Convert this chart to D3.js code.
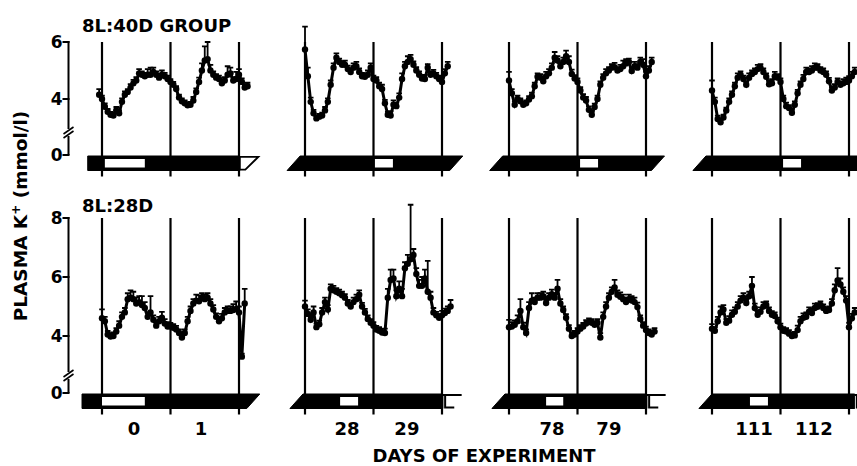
<!DOCTYPE html>
<html>
<head>
<meta charset="utf-8">
<script src="https://cdn.jsdelivr.net/npm/d3@7"></script>
<style>
  body { margin: 0; background: #fff; }
  svg text { font-family: "DejaVu Sans", sans-serif; font-weight: bold; fill: #000; }
</style>
</head>
<body>
<div id="chart"></div>
<script>
// Plasma K+ (mmol/l), one reading per hour, hour 0 = first midnight line of each panel
const topStart = [-1, 0, 0, 0];
const top1 = [4.15,4.0,3.73,3.55,3.45,3.42,3.6,3.5,3.9,4.15,4.25,4.4,4.55,4.65,4.9,4.85,4.8,4.85,4.85,4.95,4.85,4.75,4.85,4.8,4.7,4.6,4.5,4.35,4.05,3.92,3.85,3.78,3.8,3.95,4.25,4.6,5.0,5.35,5.4,5.0,4.85,4.75,4.7,4.55,4.65,4.85,4.9,4.65,4.7,4.85,4.6,4.4,4.45];
const top1Err = [0.2,0.12,0.12,0.1,0.1,0.1,0.12,0.1,0.12,0.12,0.1,0.12,0.12,0.12,0.15,0.12,0.12,0.2,0.25,0.15,0.12,0.12,0.15,0.12,0.12,0.1,0.1,0.1,0.1,0.1,0.1,0.1,0.1,0.12,0.12,0.15,0.25,0.5,0.6,0.2,0.12,0.12,0.12,0.12,0.12,0.3,0.2,0.12,0.25,0.2,0.12,0.12,0.12];
const top2 = [5.74,4.8,3.9,3.5,3.32,3.38,3.42,3.6,3.9,4.5,5.1,5.45,5.3,5.2,5.2,5.05,4.95,5.1,5.15,4.95,4.8,4.78,4.85,5.1,4.7,4.65,4.45,4.35,3.85,3.45,3.42,3.8,3.75,4.05,4.7,5.15,5.3,5.4,5.2,5.0,4.85,4.72,4.7,5.1,4.85,4.9,4.8,4.7,4.6,4.9,5.15];
const top2Err = [0.8,0.3,0.15,0.12,0.1,0.1,0.1,0.12,0.12,0.15,0.15,0.15,0.12,0.12,0.15,0.12,0.12,0.15,0.15,0.12,0.12,0.12,0.15,0.15,0.12,0.12,0.12,0.15,0.12,0.1,0.15,0.15,0.12,0.15,0.2,0.15,0.2,0.15,0.12,0.12,0.12,0.12,0.15,0.12,0.12,0.12,0.12,0.12,0.15,0.15,0.15];
const top3 = [4.65,4.2,3.8,4.0,3.92,3.8,3.85,3.98,4.1,4.45,4.78,4.75,4.62,4.8,4.9,5.1,5.45,5.35,5.15,5.3,5.5,5.3,4.88,4.72,4.6,4.3,4.05,3.95,3.62,3.45,3.72,4.0,4.5,4.75,4.9,5.0,5.1,5.12,5.0,5.05,5.15,5.25,5.3,4.98,5.15,5.1,5.3,5.2,4.8,5.0,5.3];
const top3Err = [0.3,0.15,0.12,0.12,0.1,0.1,0.1,0.12,0.12,0.12,0.12,0.12,0.12,0.15,0.15,0.15,0.2,0.15,0.12,0.15,0.2,0.2,0.15,0.12,0.12,0.12,0.12,0.12,0.12,0.1,0.12,0.12,0.12,0.12,0.15,0.12,0.12,0.15,0.12,0.15,0.2,0.15,0.12,0.12,0.15,0.12,0.15,0.2,0.15,0.15,0.15];
const top4 = [4.3,3.9,3.3,3.18,3.35,3.6,3.9,4.15,4.45,4.75,4.85,4.7,4.5,4.75,4.88,4.95,5.05,5.1,4.95,4.78,4.52,4.55,4.8,4.75,4.6,4.0,3.75,3.68,3.52,3.8,4.2,4.5,4.7,4.95,4.95,5.0,5.1,5.1,5.0,4.95,4.85,4.62,4.3,4.4,4.6,4.5,4.55,4.6,4.65,4.8,4.95];
const top4Err = [0.35,0.15,0.12,0.12,0.1,0.1,0.12,0.12,0.12,0.15,0.12,0.12,0.12,0.15,0.12,0.12,0.15,0.12,0.12,0.12,0.12,0.15,0.15,0.12,0.12,0.12,0.12,0.1,0.1,0.12,0.12,0.12,0.15,0.15,0.12,0.15,0.15,0.12,0.12,0.12,0.12,0.12,0.12,0.12,0.12,0.12,0.15,0.15,0.15,0.15,0.15];

const bottomStart = [0, 0, 0, 0];
const bot1 = [4.6,4.5,4.05,3.98,4.0,4.15,4.35,4.65,4.8,5.25,5.3,5.25,5.1,5.15,5.05,4.95,4.65,4.8,4.55,4.35,4.5,4.62,4.42,4.32,4.32,4.28,4.22,4.1,3.95,4.1,4.5,4.85,5.1,5.2,5.18,5.3,5.25,5.3,5.1,4.9,4.65,4.5,4.6,4.8,4.85,4.85,4.88,4.92,4.8,3.3,5.1];
const bot1Err = [0.3,0.15,0.12,0.12,0.12,0.12,0.15,0.15,0.15,0.2,0.25,0.25,0.2,0.2,0.3,0.2,0.15,0.55,0.15,0.15,0.15,0.2,0.15,0.15,0.12,0.12,0.12,0.12,0.12,0.12,0.15,0.15,0.15,0.2,0.2,0.15,0.15,0.15,0.15,0.15,0.12,0.12,0.15,0.15,0.15,0.15,0.2,0.25,0.2,0.1,0.5];
const bot2 = [5.0,4.75,4.55,4.8,4.3,4.4,4.8,5.15,4.9,5.6,5.55,5.5,5.45,5.38,5.3,5.1,5.0,5.15,5.25,5.4,5.0,4.8,4.58,4.45,4.35,4.22,4.18,4.12,4.1,5.3,5.9,5.95,5.35,5.6,5.35,6.3,6.45,6.6,6.75,6.1,5.7,5.7,5.95,5.5,5.3,4.8,4.7,4.62,4.7,4.78,4.85,5.0];
const bot2Err = [0.2,0.15,0.15,0.2,0.12,0.12,0.15,0.15,0.15,0.15,0.15,0.12,0.12,0.12,0.12,0.12,0.12,0.15,0.15,0.15,0.12,0.12,0.12,0.12,0.12,0.12,0.12,0.12,0.15,0.3,0.35,0.3,0.2,0.25,0.25,0.2,0.3,1.85,0.2,0.2,0.2,0.3,0.3,1.05,0.2,0.15,0.12,0.12,0.15,0.15,0.15,0.22];
const bot3 = [4.3,4.32,4.38,4.5,4.85,4.3,4.1,4.95,5.2,5.15,5.3,5.3,5.35,5.12,5.3,5.42,5.3,5.6,5.1,4.88,4.62,4.25,4.0,4.05,4.15,4.25,4.32,4.42,4.48,4.45,4.38,4.45,3.95,4.65,5.0,5.3,5.5,5.65,5.4,5.33,5.25,5.15,5.25,5.2,5.15,4.98,4.58,4.35,4.2,4.1,4.05,4.15];
const bot3Err = [0.25,0.15,0.15,0.2,0.4,0.15,0.12,0.2,0.25,0.15,0.15,0.15,0.15,0.15,0.15,0.15,0.15,0.3,0.15,0.12,0.12,0.12,0.12,0.12,0.12,0.12,0.12,0.12,0.12,0.12,0.12,0.12,0.15,0.15,0.15,0.15,0.15,0.25,0.15,0.15,0.15,0.15,0.15,0.15,0.15,0.15,0.12,0.12,0.12,0.12,0.12,0.12];
const bot4 = [4.25,4.18,4.5,4.8,4.9,4.45,4.52,4.72,4.82,5.0,5.2,5.3,5.12,5.35,5.7,4.95,4.72,4.82,5.0,5.05,4.85,4.72,4.68,4.5,4.3,4.18,4.15,4.08,4.0,4.02,4.2,4.5,4.62,4.65,4.82,4.78,4.95,4.99,5.05,4.95,4.85,4.88,5.1,5.55,5.88,5.75,5.5,5.2,4.3,4.6,4.8];
const bot4Err = [0.15,0.12,0.15,0.2,0.15,0.12,0.15,0.15,0.15,0.15,0.15,0.15,0.15,0.15,0.3,0.15,0.15,0.15,0.15,0.12,0.12,0.12,0.12,0.12,0.12,0.12,0.12,0.12,0.12,0.12,0.15,0.15,0.15,0.15,0.15,0.15,0.15,0.12,0.12,0.12,0.12,0.12,0.15,0.2,0.42,0.2,0.15,0.15,0.15,0.15,0.15];

// light / dark bar (hours), midnights, day labels
const midnights = [0, 24, 48];
const topLight = [[1, 15], [24.5, 30.8], [24.9, 31.2], [24.9, 31.2]];
const bottomLight = [[0, 15], [12.3, 18.6], [13, 19], [13.3, 19.6]];
const topBar = [[-5, 48.3], [-4, 53], [-4.5, 52.2], [-4.4, 60]];
const bottomBar = [[-7, 53], [-3, 48.3], [-3.7, 48.3], [-2.3, 50]];
const dayLabels = [["0", "1"], ["28", "29"], ["78", "79"], ["111", "112"]];
const dayLabelHours = [[11.2, 34.7], [14.7, 35.7], [15.1, 35], [14.7, 35.7]];
const topTicks = [4, 6];
const bottomTicks = [4, 6, 8];

const W = 857, H = 466;
const colLeft = [102, 305, 509, 712];
const span48 = 137;
const skew = 13;

const svg = d3.select('#chart').append('svg')
  .attr('width', W).attr('height', H);

const rows = [
  {
    title: '8L:40D GROUP',
    y: d3.scaleLinear().domain([4, 6]).range([99, 42]),
    ticks: topTicks, zeroY: 155, breakY: 132, lineTop: 42,
    start: topStart, vals: [top1, top2, top3, top4], errs: [top1Err, top2Err, top3Err, top4Err],
    light: topLight, bar: topBar, isTop: true
  },
  {
    title: '8L:28D',
    y: d3.scaleLinear().domain([4, 8]).range([336, 218]),
    ticks: bottomTicks, zeroY: 393, breakY: 375, lineTop: 218,
    start: bottomStart, vals: [bot1, bot2, bot3, bot4], errs: [bot1Err, bot2Err, bot3Err, bot4Err],
    light: bottomLight, bar: bottomBar, isTop: false
  }
];

const axisX = 68.5;

rows.forEach(row => {
  const g = svg.append('g');
  const barTop = row.zeroY + 1, barBot = barTop + 14.5;

  // title
  g.append('text').attr('x', 82).attr('y', row.isTop ? 32 : 212)
    .attr('font-size', 18).text(row.title);

  // y axis with break
  g.append('line').attr('x1', axisX).attr('x2', axisX)
    .attr('y1', row.y.range()[1] - 1).attr('y2', row.breakY - 3)
    .attr('stroke', '#000').attr('stroke-width', 2);
  g.append('line').attr('x1', axisX).attr('x2', axisX)
    .attr('y1', row.breakY + 4).attr('y2', row.zeroY)
    .attr('stroke', '#000').attr('stroke-width', 2);
  [0, 4].forEach(o => {
    g.append('line')
      .attr('x1', axisX - 5).attr('y1', row.breakY + 2 + o)
      .attr('x2', axisX + 5).attr('y2', row.breakY - 5 + o)
      .attr('stroke', '#000').attr('stroke-width', 1.6);
  });
  const tickPos = row.ticks.map(t => ({ label: String(t), y: row.y(t) }))
    .concat([{ label: '0', y: row.zeroY }]);
  tickPos.forEach(t => {
    g.append('line').attr('x1', axisX - 6).attr('x2', axisX + 1)
      .attr('y1', t.y).attr('y2', t.y)
      .attr('stroke', '#000').attr('stroke-width', 2);
    g.append('text').attr('x', axisX - 6).attr('y', t.y + 6)
      .attr('text-anchor', 'end').attr('font-size', 17).text(t.label);
  });

  row.vals.forEach((vals, c) => {
    const x = d3.scaleLinear().domain([0, 48]).range([colLeft[c], colLeft[c] + span48]);
    const pg = g.append('g');

    // midnight lines
    midnights.forEach(h => {
      pg.append('line').attr('x1', x(h)).attr('x2', x(h))
        .attr('y1', row.lineTop).attr('y2', barBot + 6)
        .attr('stroke', '#000').attr('stroke-width', 2.2);
    });

    // light/dark bar
    const [b0, b1] = row.bar[c];
    const firstTop = row.isTop && c === 0;
    const sl = c === 0 ? 0 : skew;
    const sr = firstTop ? 0 : ((row.isTop || c === 0) ? skew : 0);
    const pts = [
      [x(b0) + sl / 2, barTop], [x(b1) + sr / 2, barTop],
      [x(b1) - sr / 2, barBot], [x(b0) - sl / 2, barBot]
    ];
    pg.append('polygon').attr('points', pts.map(p => p.join(',')).join(' '))
      .attr('fill', '#000').attr('stroke', '#000').attr('stroke-width', 1);

    if (firstTop) {
      // open (light) tip at the right end
      const t1 = 52.5;
      const tip = [
        [x(b1), barTop + 0.8], [x(t1) + skew / 2, barTop + 0.8],
        [x(t1) - skew / 2, barBot - 0.8], [x(b1), barBot - 0.8]
      ];
      pg.append('polygon').attr('points', tip.map(p => p.join(',')).join(' '))
        .attr('fill', '#fff').attr('stroke', '#000').attr('stroke-width', 1.8);
    }
    if (!row.isTop && c > 0) {
      // bracket-shaped open end
      const e0 = x(b1 + 0.8), eTop = x(b1 + 6.5), eBot = x(b1 + 4);
      pg.append('path')
        .attr('d', `M${eTop},${barTop + 1} L${e0},${barTop + 1} L${e0},${barBot - 1} L${eBot},${barBot - 1}`)
        .attr('fill', 'none').attr('stroke', '#000').attr('stroke-width', 2);
      pg.append('line').attr('x1', x(b1)).attr('x2', eTop)
        .attr('y1', barTop + 1).attr('y2', barTop + 1)
        .attr('stroke', '#000').attr('stroke-width', 2);
    }

    const [l0, l1] = row.light[c];
    pg.append('rect').attr('x', x(l0)).attr('y', barTop + 3)
      .attr('width', x(l1) - x(l0)).attr('height', barBot - barTop - 6)
      .attr('fill', '#fff');

    // day labels
    if (!row.isTop) {
      dayLabels[c].forEach((lab, i) => {
        pg.append('text').attr('x', x(dayLabelHours[c][i])).attr('y', 435)
          .attr('text-anchor', 'middle').attr('font-size', 18).text(lab);
      });
    }

    // data
    const data = vals.map((v, i) => ({ h: row.start[c] + i, v, e: row.errs[c][i] || 0 }));
    pg.selectAll('.err').data(data).enter().append('path')
      .attr('d', d => {
        const yt = row.y(d.v + d.e), xx = x(d.h);
        return `M${xx},${row.y(d.v)} L${xx},${yt} M${xx - 2.8},${yt} L${xx + 2.8},${yt}`;
      })
      .attr('stroke', '#000').attr('stroke-width', 1.8).attr('fill', 'none');
    pg.append('path').datum(data)
      .attr('d', d3.line().x(d => x(d.h)).y(d => row.y(d.v)))
      .attr('fill', 'none').attr('stroke', '#000').attr('stroke-width', 3);
    pg.selectAll('.pt').data(data).enter().append('circle')
      .attr('cx', d => x(d.h)).attr('cy', d => row.y(d.v))
      .attr('r', 3.2).attr('fill', '#000');
  });
});

// axis titles
const yl = svg.append('text')
  .attr('transform', 'translate(27,216) rotate(-90)')
  .attr('text-anchor', 'middle').attr('font-size', 18.5);
yl.append('tspan').text('PLASMA K');
yl.append('tspan').attr('font-size', 12).attr('dy', -7).text('+');
yl.append('tspan').attr('dy', 7).text(' (mmol/l)');

svg.append('text').attr('x', 484).attr('y', 462)
  .attr('text-anchor', 'middle').attr('font-size', 18)
  .text('DAYS OF EXPERIMENT');
</script>
</body>
</html>
